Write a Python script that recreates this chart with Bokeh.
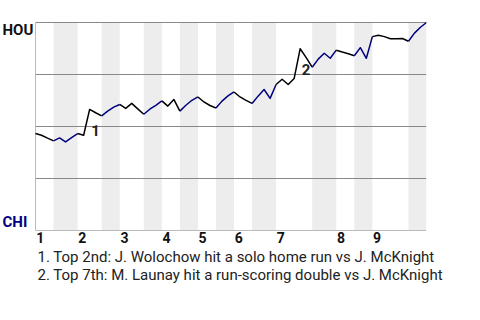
from bokeh.plotting import figure
from bokeh.models import FixedTicker, Range1d, Title
from bokeh.embed import file_html
from bokeh.resources import INLINE
from bokeh.core.properties import value

# HOU win probability after each plate appearance (index 0 = start of game)
hou_wp = [0.466, 0.458, 0.444, 0.431, 0.445, 0.426, 0.447, 0.466, 0.458, 0.582,
          0.566, 0.551, 0.574, 0.593, 0.606, 0.587, 0.611, 0.585, 0.559, 0.583,
          0.602, 0.623, 0.598, 0.630, 0.574, 0.602, 0.626, 0.642, 0.618, 0.601,
          0.589, 0.622, 0.647, 0.666, 0.642, 0.626, 0.611, 0.646, 0.678, 0.635,
          0.702, 0.727, 0.702, 0.731, 0.874, 0.831, 0.785, 0.824, 0.852, 0.828,
          0.867, 0.858, 0.850, 0.840, 0.879, 0.828, 0.932, 0.939, 0.932, 0.922,
          0.922, 0.923, 0.910, 0.949, 0.977, 1.000]

# plate-appearance index where each half inning starts (last value = end of game)
half_starts = [0, 3, 7, 11, 14, 18, 21, 24, 27, 30, 33, 36, 40, 46, 50, 53, 56, 62, 65]
inning_labels = ["1", "2", "3", "4", "5", "6", "7", "8", "9"]

grid_levels = [0.25, 0.5, 0.75, 1.0]

event_pa = [9, 44]
event_marks = ["1", "2"]
event_notes = ["1. Top 2nd: J. Wolochow hit a solo home run vs J. McKnight",
               "2. Top 7th: M. Launay hit a run-scoring double vs J. McKnight"]

team_top = "HOU"
team_bottom = "CHI"

TOP_COLOR = "black"
BOT_COLOR = "#000080"
FONT = "Roboto"

# layout geometry (pixels)
W, H = 480, 320
RIGHT = 54
AREA_LEFT = 35
PAD = 2
TOP = 22 - PAD
BOTTOM = 320 - 230 - PAD
frame_w = W - RIGHT
frame_h = H - TOP - BOTTOM
n_pa = half_starts[-1]
ppa = (frame_w - AREA_LEFT) / n_pa
x_start = -AREA_LEFT / ppa
plot_h = frame_h - 2 * PAD
ypad = PAD / plot_h

p = figure(width=W, height=H, output_backend="svg", toolbar_location=None,
           x_range=Range1d(x_start, n_pa), y_range=Range1d(-ypad, 1 + ypad),
           min_border_left=0, min_border_right=RIGHT, min_border_top=TOP,
           min_border_bottom=BOTTOM)
p.outline_line_color = None
p.background_fill_color = "white"
p.border_fill_color = "white"
p.grid.visible = False
p.yaxis.visible = False

# shaded bottom halves
bl, br = [], []
for j in range(len(half_starts) - 1):
    if j % 2 == 1:
        bl.append(half_starts[j])
        br.append(half_starts[j + 1])
p.quad(left=bl, right=br, bottom=0, top=1, fill_color="#ededed", line_color=None)

# horizontal reference lines
p.segment(x0=0, x1=n_pa, y0=grid_levels, y1=grid_levels, line_color="#888888", line_width=1)
# axis lines (bottom and left)
p.segment(x0=[0, 0], x1=[n_pa, 0], y0=[0, 0], y1=[0, 1], line_color="#bbbbbb", line_width=1)

# line segments per half inning
xs, ys, cols = [], [], []
for j in range(len(half_starts) - 1):
    a, b = half_starts[j], half_starts[j + 1]
    xs.append(list(range(a, b + 1)))
    ys.append(hou_wp[a:b + 1])
    cols.append(TOP_COLOR if j % 2 == 0 else BOT_COLOR)
p.multi_line(xs=xs, ys=ys, line_color=cols, line_width=1.5, line_join="round")

# event markers
p.text(x=event_pa, y=[hou_wp[i] for i in event_pa], text=event_marks,
       x_offset=1.5, y_offset=21, text_align="left", text_baseline="alphabetic",
       text_font=value(FONT), text_font_style="bold", text_font_size="15px",
       text_color="#222222")

# team labels
p.text(x=[x_start, x_start], y=[1, 0], text=[team_top, team_bottom],
       x_offset=2, y_offset=[7, -9], text_align="left", text_baseline="alphabetic",
       text_font=value(FONT), text_font_style="bold", text_font_size="15px",
       text_color=["#111111", BOT_COLOR])

# x axis with inning labels
tick_pos = [round(half_starts[2 * i] + 0.78, 2) for i in range(len(inning_labels))]
p.xaxis.ticker = FixedTicker(ticks=tick_pos)
p.xaxis.major_label_overrides = {t: l for t, l in zip(tick_pos, inning_labels)}
p.xaxis.axis_line_color = None
p.xaxis.major_tick_line_color = None
p.xaxis.minor_tick_line_color = None
p.xaxis.major_label_standoff = -7
p.xaxis.major_label_text_font = FONT
p.xaxis.major_label_text_font_style = "bold"
p.xaxis.major_label_text_font_size = "14px"
p.xaxis.major_label_text_color = "#111111"

# footnotes
for note, so in zip(event_notes, [0, -3]):
    p.add_layout(Title(text=note, align="left", offset=AREA_LEFT + 2, standoff=so,
                       text_font=FONT, text_font_style="normal", text_font_size="15px",
                       text_color="#222222"), "below")

open("out.html", "w").write(file_html(p, INLINE))
